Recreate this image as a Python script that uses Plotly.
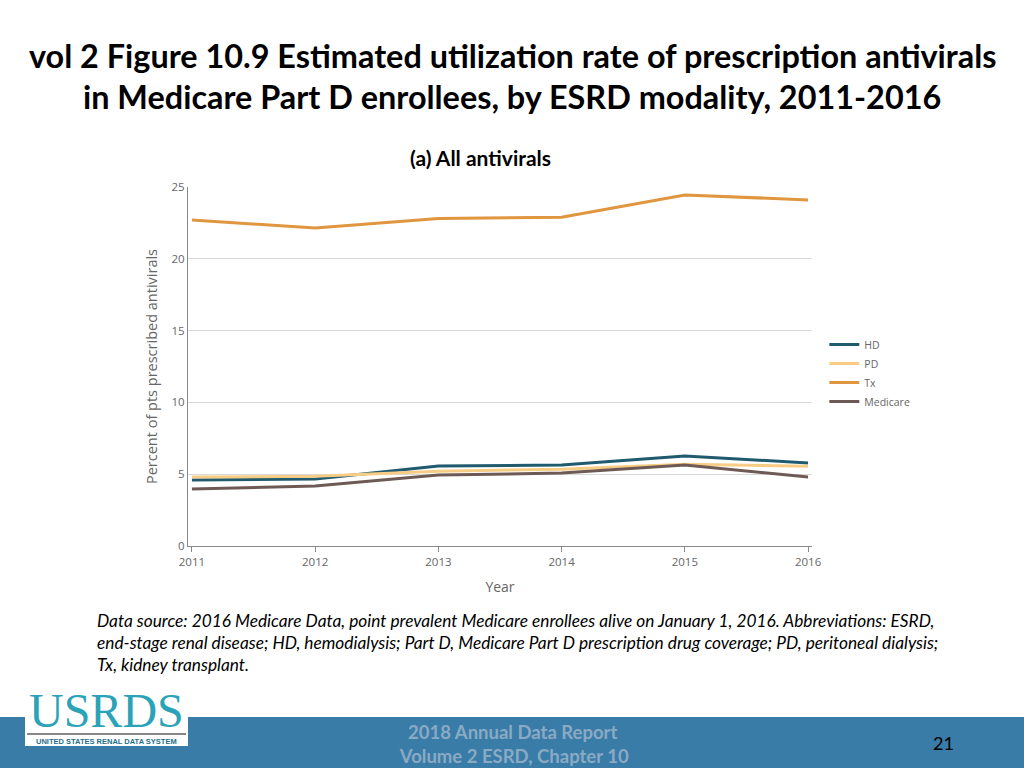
import plotly.graph_objects as go

years = [2011, 2012, 2013, 2014, 2015, 2016]
hd = [4.6, 4.67, 5.57, 5.64, 6.27, 5.78]
pd_ = [4.8, 4.85, 5.2, 5.35, 5.7, 5.55]
tx = [22.7, 22.15, 22.8, 22.9, 24.45, 24.1]
medicare = [3.97, 4.18, 4.94, 5.08, 5.64, 4.8]
series = [("HD", hd, "#1f5a6e"), ("PD", pd_, "#f7cd85"), ("Tx", tx, "#e0953f"), ("Medicare", medicare, "#6e5a55")]

fig = go.Figure()
for name, vals, col in series:
    fig.add_trace(go.Scatter(x=years, y=vals, name=name, mode="lines", line=dict(color=col, width=3)))

def py(p):
    return 1 - p / 768

fig.update_layout(
    width=1024, height=768, paper_bgcolor="white", plot_bgcolor="white",
    margin=dict(l=0, r=0, t=0, b=0),
    font=dict(family="Open Sans", color="#666"),
    xaxis=dict(domain=[188/1024, 812/1024], range=[2010.968, 2016.032], tickvals=years, showgrid=False, automargin=False,
               showline=True, linecolor="#888", ticks="outside", tickcolor="#888", ticklen=5,
               tickfont=dict(size=11.5, color="#666"),
               title=dict(text="Year", font=dict(size=14, color="#666"), standoff=14)),
    yaxis=dict(domain=[py(546), py(187)], range=[0, 25], tickvals=[0, 5, 10, 15, 20, 25], automargin=False,
               gridcolor="#d9d9d9", showline=True, linecolor="#888", zeroline=False,
               tickfont=dict(size=11.5, color="#666"),
               title=dict(text="Percent of pts prescribed antivirals", font=dict(size=14.5, color="#666"), standoff=10)),
    legend=dict(x=0.805, y=py(330), xanchor="left", yanchor="top", font=dict(size=10.5, color="#666"),
                tracegroupgap=0, itemwidth=30),
)

fig.add_annotation(x=0.5, y=py(55), xref="paper", yref="paper", showarrow=False,
                   text="<b>vol 2 Figure 10.9 Estimated utilization rate of prescription antivirals</b>",
                   font=dict(family="Lato", size=32.4, color="black"), yanchor="middle")
fig.add_annotation(x=0.5, y=py(96), xref="paper", yref="paper", showarrow=False,
                   text="<b>in Medicare Part D enrollees, by ESRD modality, 2011-2016</b>",
                   font=dict(family="Lato", size=32.4, color="black"), yanchor="middle")
fig.add_annotation(x=480/1024, y=py(157), xref="paper", yref="paper", showarrow=False, xanchor="center",
                   text="<b>(a) All antivirals</b>", font=dict(family="Lato", size=21, color="black"), yanchor="middle")
notes = ["Data source: 2016 Medicare Data, point prevalent Medicare enrollees alive on January 1, 2016. Abbreviations: ESRD,",
         "end-stage renal disease; HD, hemodialysis; Part D, Medicare Part D prescription drug coverage; PD, peritoneal dialysis;",
         "Tx, kidney transplant."]
for i, t in enumerate(notes):
    fig.add_annotation(x=95/1024, y=py(620 + 22 * i), xref="paper", yref="paper", showarrow=False, xanchor="left", yanchor="middle",
                       text="<i>" + t + "</i>", font=dict(family="Lato", size=17.3, color="black"))

fig.add_shape(type="rect", xref="paper", yref="paper", x0=0, x1=1, y0=0, y1=py(717), fillcolor="#3a7ca8", line_width=0, layer="below")
fig.add_shape(type="rect", xref="paper", yref="paper", x0=25/1024, x1=188/1024, y0=py(746), y1=py(690), fillcolor="white", line_width=0)
fig.add_shape(type="line", xref="paper", yref="paper", x0=27/1024, x1=186/1024, y0=py(734), y1=py(734), line=dict(color="#888", width=2))
fig.add_annotation(x=106/1024, y=py(710), xref="paper", yref="paper", showarrow=False, text="USRDS", xanchor="center", yanchor="middle",
                   font=dict(family="Liberation Serif", size=48, color="#2aa3b8"))
fig.add_annotation(x=106/1024, y=py(741), xref="paper", yref="paper", showarrow=False, text="<b>UNITED STATES RENAL DATA SYSTEM</b>",
                   xanchor="center", yanchor="middle", font=dict(family="Liberation Sans Narrow, Liberation Sans", size=7.5, color="#1f6f8a"))
fig.add_annotation(x=0.5, y=py(732), xref="paper", yref="paper", showarrow=False, xanchor="center",
                   text="<b>2018 Annual Data Report</b>", yanchor="middle",
                   font=dict(family="Lato", size=18.5, color="#8aaac4"))
fig.add_annotation(x=0.5, y=py(756), xref="paper", yref="paper", showarrow=False, xanchor="center",
                   text="<b> Volume 2 ESRD, Chapter 10</b>", yanchor="middle",
                   font=dict(family="Lato", size=18.5, color="#8aaac4"))
fig.add_annotation(x=943/1024, y=py(743), xref="paper", yref="paper", showarrow=False, text="21", xanchor="center", yanchor="middle",
                   font=dict(family="Lato", size=18, color="black"))

fig.write_html("out.html", config={"displayModeBar": False},
               post_script="document.body.style.margin='0';document.body.style.padding='0';document.body.style.overflow='hidden';")
